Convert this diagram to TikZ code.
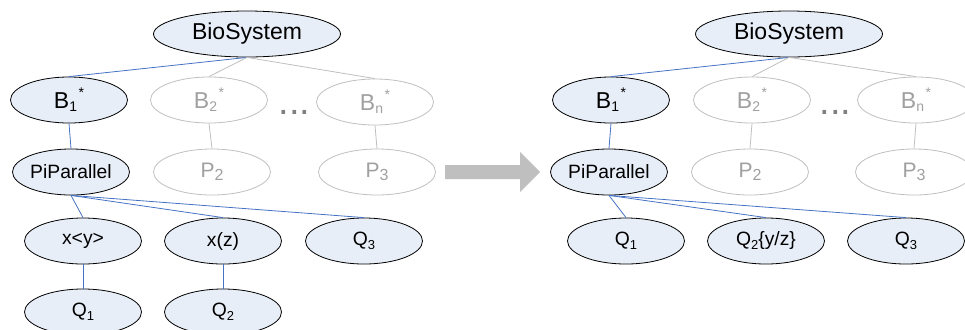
\documentclass[tikz,border=0pt]{standalone}
\usepackage{fontspec}
\setmainfont{Liberation Sans}
\usetikzlibrary{shapes.geometric}
\definecolor{nodefill}{HTML}{E8EEF8}
\definecolor{edgeblue}{HTML}{4472C4}
\definecolor{lightgray}{HTML}{BFBFBF}
\definecolor{graytext}{HTML}{A0A0A0}
\definecolor{dotgray}{HTML}{808080}
% lowered / raised small text: size, shift, text
\newcommand\mysub[3]{\raisebox{-#2}{\fontsize{#1}{#1}\selectfont #3}}
\newcommand\mysup[3]{\hspace{1.5bp}\raisebox{#2}{\fontsize{#1}{#1}\selectfont #3}}
\newcommand\Bsub[1]{B\mysub{14bp}{3.3bp}{#1}\mysup{14bp}{10.5bp}{*}}
\newcommand\Psub[1]{P\mysub{16bp}{3.3bp}{#1}}
\newcommand\Qsub[1]{Q\mysub{13bp}{3.3bp}{#1}}
\begin{document}
\begin{tikzpicture}[x=1bp,y=-1bp,
  base/.style={ellipse, inner sep=0pt, minimum width=117bp, minimum height=46bp, line width=0.8bp},
  active/.style={base, draw=black, fill=nodefill, text=black},
  faded/.style={base, draw=lightgray, text=graytext},
  wide/.style={minimum width=187bp},
  fbig/.style={font=\fontsize{23bp}{27bp}\selectfont},
  fmid/.style={font=\fontsize{21bp}{25bp}\selectfont},
  fsmall/.style={font=\fontsize{19.3bp}{23bp}\selectfont},
  blueedge/.style={draw=edgeblue, line width=0.8bp},
  grayedge/.style={draw=lightgray, line width=0.8bp},
  dotstyle/.style={font=\fontsize{38bp}{40bp}\selectfont, text=dotgray, inner sep=0pt, anchor=base}
]
\clip (0,0) rectangle (965,329);
% ---------- left tree ----------
\node[active, wide, fbig] (Lbio) at (247,34) {BioSystem};
\node[active, fbig] (Lb1) at (69,100) {\Bsub{1}};
\node[faded, fbig] (Lb2) at (209,100) {\Bsub{2}};
\node[faded, fbig] (Lbn) at (375,102) {\Bsub{n}};
\node[dotstyle] (Ldots) at (294.5,114.3) {...};
\node[active, fsmall] (Lpi) at (71,172) {PiParallel};
\node[faded, fmid] (Lp2) at (212,172) {\Psub{2}};
\node[faded, fmid] (Lp3) at (377,172) {\Psub{3}};
\node[active, fsmall] (Lxy) at (83,241) {x<y>};
\node[active, fsmall] (Lxz) at (223,241) {x(z)};
\node[active, fsmall] (Lq3) at (364,241) {\Qsub{3}};
\node[active, fsmall] (Lq1) at (83,312) {\Qsub{1}};
\node[active, fsmall] (Lq2) at (223,312) {\Qsub{2}};
\draw[blueedge] (Lbio.south) -- (Lb1.north);
\draw[grayedge] (Lbio.south) -- (Lb2.north);
\draw[grayedge] (Lbio.south) -- (Lbn.north);
\draw[blueedge] (Lb1.south) -- (Lpi.north);
\draw[grayedge] (Lb2.south) -- (Lp2.north);
\draw[grayedge] (Lbn.south) -- (Lp3.north);
\draw[blueedge] (Lpi.south) -- (Lxy.north);
\draw[blueedge] (Lpi.south) -- (Lxz.north);
\draw[blueedge] (Lpi.south) -- (Lq3.north);
\draw[blueedge] (Lxy.south) -- (Lq1.north);
\draw[blueedge] (Lxz.south) -- (Lq2.north);
% ---------- transformation arrow ----------
\fill[lightgray] (445,165) -- (520,165) -- (520,152) -- (540,172) -- (520,192) -- (520,179) -- (445,179) -- cycle;
% ---------- right tree ----------
\node[active, wide, fbig] (Rbio) at (789,34) {BioSystem};
\node[active, fbig] (Rb1) at (611,100) {\Bsub{1}};
\node[faded, fbig] (Rb2) at (752,100) {\Bsub{2}};
\node[faded, fbig] (Rbn) at (916,100) {\Bsub{n}};
\node[dotstyle] (Rdots) at (835.5,114.3) {...};
\node[active, fsmall] (Rpi) at (609,172) {PiParallel};
\node[faded, fmid] (Rp2) at (750,172) {\Psub{2}};
\node[faded, fmid] (Rp3) at (914,172) {\Psub{3}};
\node[active, fsmall] (Rq1) at (626,241) {\Qsub{1}};
\node[active, fsmall] (Rq2) at (766,241) {\Qsub{2}\{y/z\}};
\node[active, fsmall] (Rq3) at (906,241) {\Qsub{3}};
\draw[blueedge] (Rbio.south) -- (Rb1.north);
\draw[grayedge] (Rbio.south) -- (Rb2.north);
\draw[grayedge] (Rbio.south) -- (Rbn.north);
\draw[blueedge] (Rb1.south) -- (Rpi.north);
\draw[grayedge] (Rb2.south) -- (Rp2.north);
\draw[grayedge] (Rbn.south) -- (Rp3.north);
\draw[blueedge] (Rpi.south) -- (Rq1.north);
\draw[blueedge] (Rpi.south) -- (Rq2.north);
\draw[blueedge] (Rpi.south) -- (Rq3.north);
\end{tikzpicture}
\end{document}
